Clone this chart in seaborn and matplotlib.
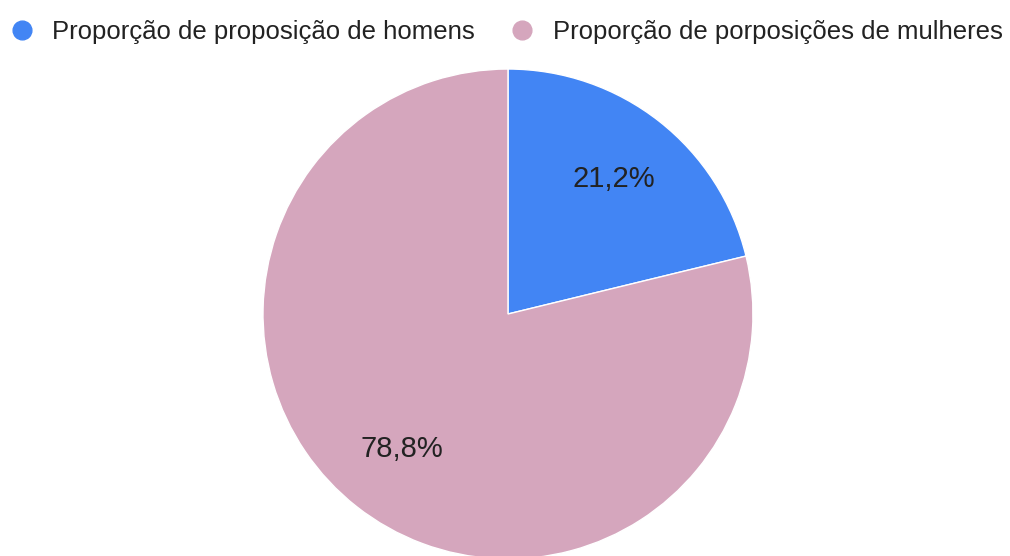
import matplotlib
matplotlib.use("Agg")
import matplotlib.pyplot as plt
from matplotlib.lines import Line2D
import seaborn as sns

# dados do gráfico
labels = ["Proporção de proposição de homens", "Proporção de porposições de mulheres"]
values = [21.2, 78.8]
colors = ["#4285F4", "#D5A6BD"]

sns.set_theme(style="white")
plt.rcParams["font.family"] = ["Liberation Sans", "DejaVu Sans"]

fig = plt.figure(figsize=(10.10, 5.56), dpi=100)
# eixo quadrado com raio ~245 px, centro em (508, 314)
ax = fig.add_axes([0.2604, -0.0054, 0.4851, 0.8813])

wedges, texts, autotexts = ax.pie(
    values,
    colors=colors,
    startangle=90,
    counterclock=False,
    radius=1,
    autopct=lambda p: f"{p:.1f}%".replace(".", ","),
    pctdistance=0.70,
    wedgeprops=dict(edgecolor="white", linewidth=1),
    textprops=dict(fontsize=21, color="#222222"),
)
ax.set_xlim(-1, 1)
ax.set_ylim(-1, 1)
ax.set_aspect("equal")
ax.axis("off")

handles = [Line2D([0], [0], marker="o", linestyle="none", markersize=13.5,
                  markerfacecolor=c, markeredgecolor=c) for c in colors]
fig.legend(handles, labels, loc="upper left", bbox_to_anchor=(9 / 1010, 1 - 20 / 556),
           ncol=2, frameon=False, fontsize=18.5, handlelength=1.0,
           handletextpad=0.67, columnspacing=1.36, borderaxespad=0,
           borderpad=0, labelcolor="#222222")

fig.savefig("out.png", dpi=100)
